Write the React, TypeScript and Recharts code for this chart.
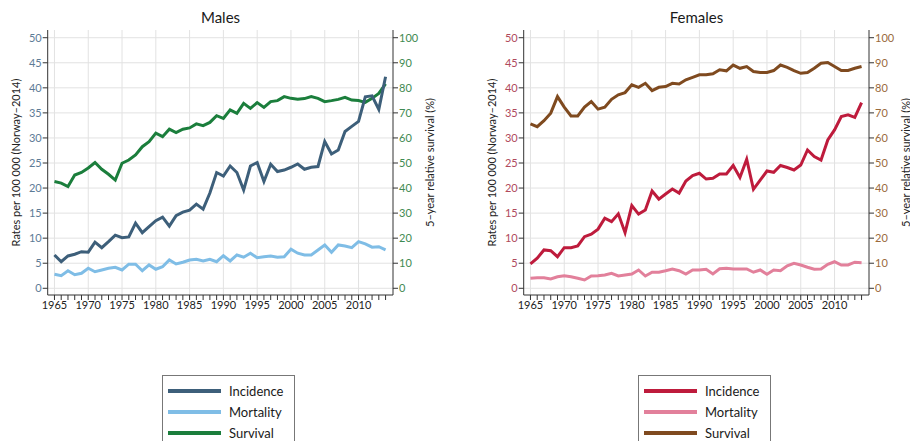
import React from "react";
import { LineChart, Line, XAxis, YAxis, CartesianGrid } from "recharts";

// Years 1965–2014, one point per year
const years = Array.from({ length: 50 }, (_, i) => 1965 + i);
const decadeMarks = [1965, 1970, 1975, 1980, 1985, 1990, 1995, 2000, 2005, 2010];
const rateTicks = [0, 5, 10, 15, 20, 25, 30, 35, 40, 45, 50];
const survivalTicks = [0, 10, 20, 30, 40, 50, 60, 70, 80, 90, 100];

// Males, rates per 100 000
const maleIncidence = [
  6.65, 5.3, 6.45, 6.8, 7.3, 7.2, 9.2, 8.1, 9.3, 10.6,
  10.1, 10.25, 13.0, 11.1, 12.3, 13.5, 14.2, 12.4, 14.5, 15.2,
  15.6, 16.8, 15.8, 19.0, 23.1, 22.4, 24.4, 23.1, 19.6, 24.4,
  25.1, 21.3, 24.75, 23.3, 23.6, 24.15, 24.8, 23.75, 24.15, 24.3,
  29.3, 26.8, 27.6, 31.3, 32.3, 33.3, 38.2, 38.4, 35.7, 42.2,
];
const maleMortality = [
  2.8, 2.5, 3.5, 2.7, 3.0, 4.0, 3.3, 3.65, 4.0, 4.2,
  3.65, 4.8, 4.8, 3.5, 4.65, 3.8, 4.3, 5.65, 4.85, 5.2,
  5.65, 5.8, 5.45, 5.8, 5.3, 6.5, 5.45, 6.65, 6.2, 7.0,
  6.1, 6.3, 6.45, 6.2, 6.3, 7.8, 7.0, 6.65, 6.65, 7.65,
  8.65, 7.2, 8.65, 8.45, 8.1, 9.3, 8.85, 8.2, 8.3, 7.65,
];
// Males, 5-year relative survival (%)
const maleSurvival = [
  42.6, 42.0, 40.6, 45.2, 46.2, 48.0, 50.2, 47.5, 45.5, 43.2,
  49.9, 51.2, 53.2, 56.5, 58.5, 61.9, 60.5, 63.5, 62.1, 63.5,
  64.0, 65.6, 64.9, 66.2, 68.9, 67.8, 71.2, 69.8, 73.8, 71.8,
  74.1, 72.2, 74.5, 74.9, 76.5, 75.8, 75.4, 75.7, 76.5, 75.8,
  74.5, 74.9, 75.4, 76.2, 75.1, 74.9, 74.2, 75.8, 77.8, 81.6,
];

// Females, rates per 100 000
const femaleIncidence = [
  4.85, 6.0, 7.65, 7.5, 6.3, 8.1, 8.1, 8.45, 10.3, 10.8,
  11.8, 14.0, 13.3, 14.85, 11.1, 16.5, 14.8, 15.6, 19.4, 17.8,
  18.8, 19.8, 19.0, 21.4, 22.5, 22.95, 21.8, 21.95, 22.8, 22.8,
  24.5, 22.1, 25.75, 19.75, 21.6, 23.4, 23.15, 24.5, 24.1, 23.6,
  24.6, 27.6, 26.3, 25.6, 29.6, 31.6, 34.25, 34.6, 34.1, 37.05,
];
const femaleMortality = [
  2.0, 2.1, 2.1, 1.85, 2.3, 2.5, 2.3, 2.0, 1.65, 2.45,
  2.5, 2.65, 3.0, 2.45, 2.65, 2.85, 3.65, 2.45, 3.2, 3.2,
  3.5, 3.85, 3.5, 2.85, 3.65, 3.65, 3.8, 2.85, 3.9, 4.0,
  3.85, 3.85, 3.85, 3.2, 3.65, 2.8, 3.65, 3.5, 4.5, 5.0,
  4.65, 4.2, 3.8, 3.85, 4.8, 5.3, 4.65, 4.65, 5.2, 5.1,
];
// Females, 5-year relative survival (%)
const femaleSurvival = [
  65.6, 64.5, 66.9, 69.9, 76.5, 72.3, 68.8, 68.8, 72.3, 74.5,
  71.5, 72.3, 75.4, 77.2, 78.1, 81.2, 80.2, 81.8, 78.9, 80.2,
  80.5, 81.8, 81.5, 83.2, 84.2, 85.2, 85.2, 85.6, 87.2, 86.8,
  89.1, 87.8, 88.5, 86.5, 86.1, 86.1, 86.9, 89.1, 88.2, 86.9,
  85.8, 86.1, 87.8, 89.8, 90.1, 88.5, 86.9, 86.9, 87.8, 88.5,
];

const FONT = "Lato, 'Open Sans', sans-serif";

interface Palette {
  incidence: string;
  mortality: string;
  survival: string;
  leftTick: string;
  rightTick: string;
}

interface PanelProps {
  title: string;
  left: number;
  incidence: number[];
  mortality: number[];
  survival: number[];
  palette: Palette;
}

function AxisTitle({ viewBox, dx, text }: any) {
  if (!viewBox) return null;
  const x = viewBox.x + dx;
  const y = viewBox.y + viewBox.height / 2;
  return (
    <text
      x={x}
      y={y}
      transform={`rotate(-90, ${x}, ${y})`}
      textAnchor="middle"
      dominantBaseline="central"
      fontSize={11}
      fontFamily={FONT}
      fill="#222"
    >
      {text}
    </text>
  );
}

function Panel({ title, left, incidence, mortality, survival, palette }: PanelProps) {
  const rows = years.map((year, i) => ({
    year,
    incidence: incidence[i],
    mortality: mortality[i],
    survival: survival[i],
  }));

  const legendItems = [
    { name: "Incidence", color: palette.incidence },
    { name: "Mortality", color: palette.mortality },
    { name: "Survival", color: palette.survival },
  ];

  return (
    <div style={{ position: "absolute", left, top: 0, width: 460, height: 441 }}>
      <div
        style={{
          position: "absolute",
          left: 48,
          width: 345,
          top: 8,
          textAlign: "center",
          fontSize: 15,
          color: "#1a1a1a",
          fontFamily: FONT,
        }}
      >
        {title}
      </div>
      <div style={{ position: "absolute", left: 0, top: 0 }}>
        <LineChart
          width={460}
          height={330}
          data={rows}
          margin={{ top: 30, right: 27, bottom: 15, left: 0 }}
        >
          <CartesianGrid
            xAxisId="x"
            yAxisId="left"
            stroke="#e2e2e2"
            verticalValues={decadeMarks}
            horizontalValues={rateTicks}
          />
          <XAxis
            xAxisId="x"
            dataKey="year"
            type="number"
            domain={[1964, 2015.1]}
            ticks={years}
            interval={0}
            tickFormatter={(v: number) => (v % 5 === 0 ? String(v) : "")}
            tickSize={5}
            tickMargin={1}
            height={20}
            stroke="#333"
            tick={{ fill: "#222", fontSize: 11, fontFamily: FONT }}
            allowDataOverflow
          />
          <XAxis
            xAxisId="top"
            orientation="top"
            type="number"
            domain={[1964, 2015.1]}
            height={0}
            tick={false}
            tickLine={false}
            stroke="#333"
          />
          <YAxis
            yAxisId="left"
            width={47.7}
            domain={[-1.34, 51.54]}
            ticks={rateTicks}
            interval={0}
            allowDataOverflow
            tickSize={5}
            tickMargin={1}
            stroke="#333"
            tick={{ fill: palette.leftTick, fontSize: 11, fontFamily: FONT }}
            label={<AxisTitle dx={15} text="Rates per 100 000 (Norway–2014)" />}
          />
          <YAxis
            yAxisId="right"
            orientation="right"
            width={40}
            domain={[-2.68, 103.08]}
            ticks={survivalTicks}
            interval={0}
            allowDataOverflow
            tickSize={5}
            tickMargin={1}
            stroke="#333"
            tick={{ fill: palette.rightTick, fontSize: 11, fontFamily: FONT }}
            label={<AxisTitle dx={36} text="5–year relative survival (%)" />}
          />
          <Line
            xAxisId="x"
            yAxisId="right"
            dataKey="survival"
            stroke={palette.survival}
            strokeWidth={3}
            dot={false}
            isAnimationActive={false}
          />
          <Line
            xAxisId="x"
            yAxisId="left"
            dataKey="mortality"
            stroke={palette.mortality}
            strokeWidth={3}
            dot={false}
            isAnimationActive={false}
          />
          <Line
            xAxisId="x"
            yAxisId="left"
            dataKey="incidence"
            stroke={palette.incidence}
            strokeWidth={3}
            dot={false}
            isAnimationActive={false}
          />
        </LineChart>
      </div>
      <div
        style={{
          position: "absolute",
          left: 162,
          top: 375,
          width: 133,
          height: 80,
          border: "1px solid #777",
          boxSizing: "border-box",
          fontFamily: FONT,
          fontSize: 13,
          color: "#1a1a1a",
        }}
      >
        {legendItems.map((item, i) => (
          <div
            key={item.name}
            style={{
              position: "absolute",
              left: 5,
              top: 7 + i * 20.8,
              height: 16,
              display: "flex",
              alignItems: "center",
            }}
          >
            <span
              style={{
                display: "inline-block",
                width: 53,
                height: 4,
                background: item.color,
                marginRight: 8,
              }}
            />
            <span>{item.name}</span>
          </div>
        ))}
      </div>
    </div>
  );
}

export default function App() {
  return (
    <div
      style={{
        position: "absolute",
        left: 0,
        top: 0,
        width: 910,
        height: 441,
        background: "#fff",
        overflow: "hidden",
      }}
    >
      <Panel
        title="Males"
        left={0}
        incidence={maleIncidence}
        mortality={maleMortality}
        survival={maleSurvival}
        palette={{
          incidence: "#3d5f7a",
          mortality: "#7fbde6",
          survival: "#1b7e3c",
          leftTick: "#5d7b96",
          rightTick: "#3f8a52",
        }}
      />
      <Panel
        title="Females"
        left={476}
        incidence={femaleIncidence}
        mortality={femaleMortality}
        survival={femaleSurvival}
        palette={{
          incidence: "#be1b3c",
          mortality: "#e2809b",
          survival: "#7f4a1f",
          leftTick: "#b04a5c",
          rightTick: "#9a6a3c",
        }}
      />
    </div>
  );
}
